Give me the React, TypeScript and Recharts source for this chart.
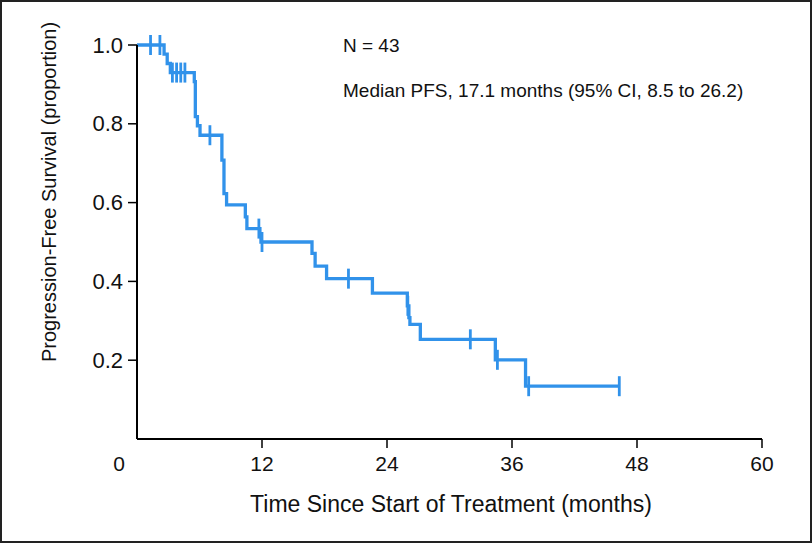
import React from 'react';
import { ComposedChart, Line, Scatter, XAxis, YAxis, Label } from 'recharts';

// step curve: time (months) and survival proportion after each step
const eventTimes = [0, 2.6, 2.9, 3.2, 5.5, 5.6, 5.8, 6.05, 8.15, 8.35, 8.6, 10.4, 10.55, 11.8, 11.9, 16.8, 17.1, 18.2, 22.6, 25.95, 26.1, 26.2, 27.2, 34.4, 37.3, 46.3];
const survival = [1.0, 0.977, 0.953, 0.93, 0.907, 0.818, 0.795, 0.771, 0.708, 0.623, 0.594, 0.564, 0.534, 0.517, 0.5, 0.471, 0.439, 0.407, 0.37, 0.338, 0.308, 0.291, 0.253, 0.201, 0.134, 0.134];

// censored observations
const censorTimes = [1.3, 2.2, 3.4, 3.8, 4.2, 4.6, 7.0, 11.7, 12.0, 20.3, 26.0, 32.0, 34.6, 37.6, 46.3];
const censorLevels = [1.0, 1.0, 0.93, 0.93, 0.93, 0.93, 0.771, 0.534, 0.5, 0.407, 0.338, 0.253, 0.201, 0.134, 0.134];

const xTicks = [0, 12, 24, 36, 48, 60];
const yTicks = [0.2, 0.4, 0.6, 0.8, 1.0];

const BLUE = '#3192EA';
const FONT = '"Liberation Sans", Arial, Helvetica, sans-serif';

const curve = eventTimes.map((t, i) => ({ t, s: survival[i] }));
const censored = censorTimes.map((t, i) => ({ t, s: censorLevels[i] }));

const XTick = (props: any) => {
  const { x, y, payload } = props;
  const isZero = payload.value === 0;
  return (
    <g>
      {!isZero && <line x1={x} y1={y} x2={x} y2={y + 9} stroke="#000" strokeWidth={1.5} />}
      <text x={isZero ? x - 18 : x} y={y + 24} textAnchor="middle" dominantBaseline="central" fontSize={21} fill="#111" fontFamily={FONT}>
        {payload.value}
      </text>
    </g>
  );
};

const YTick = (props: any) => {
  const { x, y, payload } = props;
  return (
    <g>
      <line x1={x - 9} y1={y} x2={x} y2={y} stroke="#000" strokeWidth={1.5} />
      <text x={x - 14} y={y} textAnchor="end" dominantBaseline="central" fontSize={22} fill="#111" fontFamily={FONT}>
        {payload.value.toFixed(1)}
      </text>
    </g>
  );
};

const CensorMark = (props: any) => {
  const { cx, cy } = props;
  return <line x1={cx} y1={cy - 10} x2={cx} y2={cy + 10} stroke={BLUE} strokeWidth={2.8} />;
};

export default function App() {
  return (
    <div style={{ position: 'absolute', left: 0, top: 0, width: 812, height: 543, background: '#fff', fontFamily: FONT }}>
      <ComposedChart width={812} height={543} margin={{ top: 45, right: 50, bottom: 44, left: 77 }}>
        <XAxis
          dataKey="t"
          type="number"
          domain={[0, 60]}
          ticks={xTicks}
          tick={<XTick />}
          tickLine={false}
          tickSize={0}
          tickMargin={0}
          height={60}
          axisLine={{ stroke: '#000', strokeWidth: 2 }}
          allowDataOverflow
        >
          <Label
            content={() => (
              <text x={451} y={504} textAnchor="middle" dominantBaseline="central" fontSize={23} fill="#111" fontFamily={FONT}>
                Time Since Start of Treatment (months)
              </text>
            )}
          />
        </XAxis>
        <YAxis
          dataKey="s"
          type="number"
          domain={[0, 1]}
          ticks={yTicks}
          tick={<YTick />}
          tickLine={false}
          tickSize={0}
          tickMargin={0}
          width={60}
          axisLine={{ stroke: '#000', strokeWidth: 2 }}
        >
          <Label
            content={() => (
              <text x={49} y={192} transform="rotate(-90, 49, 192)" textAnchor="middle" dominantBaseline="central" fontSize={20} fill="#111" fontFamily={FONT}>
                Progression-Free Survival (proportion)
              </text>
            )}
          />
        </YAxis>
        <Line
          data={curve}
          dataKey="s"
          type="stepAfter"
          stroke={BLUE}
          strokeWidth={3.3}
          dot={false}
          activeDot={false}
          isAnimationActive={false}
        />
        <Scatter data={censored} dataKey="s" shape={<CensorMark />} isAnimationActive={false} />
      </ComposedChart>
      <div style={{ position: 'absolute', left: 343, top: 35, fontSize: 19, lineHeight: '22px', color: '#111' }}>N = 43</div>
      <div style={{ position: 'absolute', left: 343, top: 80, fontSize: 19, lineHeight: '22px', color: '#111' }}>
        Median PFS, 17.1 months (95% CI, 8.5 to 26.2)
      </div>
      <div style={{ position: 'absolute', left: 0, top: 0, width: 812, height: 543, border: '2px solid #222', boxSizing: 'border-box', pointerEvents: 'none' }} />
    </div>
  );
}
